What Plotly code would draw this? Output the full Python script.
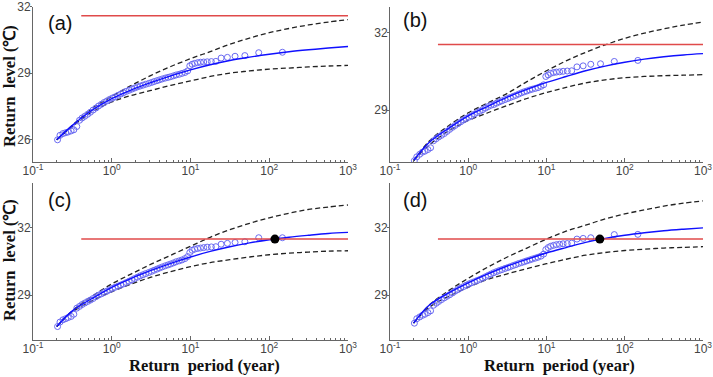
import plotly.graph_objects as go

# ---------------- data ----------------
panel_labels = ["(a)", "(b)", "(c)", "(d)"]

# empirical return periods (years) of the plotted observations
T_obs = [147, 73.5, 49, 36.8, 29.4, 24.5, 21, 18.4, 16.3, 14.7, 13.4, 12.3, 11.3, 10.5, 9.8,
         9.2, 8.5, 7.8, 7.2, 6.6, 6.1, 5.6, 5.2, 4.8, 4.4,
         4.05, 3.75, 3.45, 3.2, 2.95, 2.7, 2.5, 2.3, 2.12, 1.95,
         1.8, 1.66, 1.53, 1.41, 1.3, 1.2, 1.1, 1.02, 0.94, 0.87,
         0.8, 0.74, 0.68, 0.63, 0.58, 0.535, 0.495, 0.455, 0.42, 0.39,
         0.36, 0.33, 0.305, 0.28, 0.26, 0.24, 0.22, 0.205]

obs_a = [29.94, 29.92, 29.79, 29.76, 29.71, 29.68, 29.53, 29.52, 29.51, 29.50, 29.49, 29.47, 29.44, 29.40, 29.33,
         29.10, 29.03, 28.99, 28.95, 28.92, 28.88, 28.84, 28.81, 28.78, 28.74,
         28.70, 28.66, 28.62, 28.58, 28.54, 28.50, 28.46, 28.42, 28.38, 28.33,
         28.28, 28.23, 28.18, 28.12, 28.06, 28.00, 27.93, 27.88, 27.82, 27.75,
         27.68, 27.60, 27.52, 27.43, 27.34, 27.24, 27.15, 27.06, 26.98, 26.88,
         26.60, 26.45, 26.40, 26.35, 26.32, 26.28, 26.20, 26.00]
obs_b = [30.92, 30.88, 30.79, 30.77, 30.71, 30.67, 30.52, 30.51, 30.50, 30.48, 30.47, 30.45, 30.42, 30.36, 30.30,
         29.98, 29.92, 29.87, 29.84, 29.81, 29.78, 29.74, 29.71, 29.67, 29.62,
         29.57, 29.53, 29.49, 29.45, 29.41, 29.36, 29.32, 29.27, 29.22, 29.19,
         29.14, 29.08, 29.02, 28.96, 28.91, 28.85, 28.78, 28.73, 28.68, 28.62,
         28.55, 28.48, 28.41, 28.34, 28.26, 28.18, 28.10, 28.03, 27.97, 27.90,
         27.82, 27.55, 27.48, 27.42, 27.38, 27.30, 27.20, 27.05]
obs_c = [31.56, 31.56, 31.38, 31.35, 31.31, 31.27, 31.16, 31.15, 31.14, 31.12, 31.10, 31.08, 31.05, 31.00, 30.90,
         30.72, 30.63, 30.57, 30.53, 30.49, 30.44, 30.39, 30.35, 30.31, 30.26,
         30.21, 30.16, 30.11, 30.06, 30.01, 29.96, 29.91, 29.86, 29.80, 29.74,
         29.68, 29.62, 29.56, 29.50, 29.45, 29.40, 29.35, 29.30, 29.24, 29.18,
         29.12, 29.06, 29.00, 28.93, 28.85, 28.78, 28.72, 28.65, 28.58, 28.50,
         28.42, 28.15, 28.05, 28.00, 27.95, 27.90, 27.80, 27.60]
obs_d = [31.71, 31.70, 31.52, 31.56, 31.53, 31.50, 31.32, 31.30, 31.29, 31.27, 31.25, 31.22, 31.18, 31.12, 31.03,
         30.83, 30.74, 30.69, 30.65, 30.61, 30.57, 30.53, 30.49, 30.45, 30.41,
         30.36, 30.32, 30.27, 30.23, 30.19, 30.14, 30.10, 30.05, 30.00, 29.94,
         29.88, 29.82, 29.76, 29.70, 29.65, 29.60, 29.55, 29.50, 29.44, 29.38,
         29.32, 29.25, 29.18, 29.10, 29.02, 28.95, 28.88, 28.80, 28.72, 28.64,
         28.55, 28.30, 28.22, 28.15, 28.10, 28.03, 27.95, 27.75]

# return periods at which the fitted curve and its confidence bounds are read
T_fit = [0.2, 0.316, 0.562, 1, 1.78, 3.16, 5.62, 10, 17.8, 31.6, 56.2, 100, 178, 316, 562, 1000]

fit_a = [26.0, 26.65, 27.33, 27.85, 28.25, 28.58, 28.88, 29.15, 29.38, 29.57, 29.72, 29.85, 29.96, 30.05, 30.13, 30.2]
up_a = [26.0, 26.65, 27.4, 27.95, 28.45, 28.9, 29.3, 29.65, 29.97, 30.3, 30.58, 30.82, 31.01, 31.17, 31.3, 31.41]
lo_a = [26.0, 26.6, 27.25, 27.7, 28.0, 28.22, 28.45, 28.65, 28.85, 29.0, 29.1, 29.18, 29.23, 29.28, 29.32, 29.35]

fit_b = [27.05, 27.75, 28.3, 28.78, 29.15, 29.5, 29.8, 30.07, 30.3, 30.52, 30.7, 30.85, 30.97, 31.06, 31.13, 31.18]
up_b = [27.05, 27.8, 28.4, 28.9, 29.28, 29.65, 30.1, 30.52, 30.9, 31.23, 31.52, 31.77, 31.97, 32.14, 32.28, 32.4]
lo_b = [27.05, 27.65, 28.2, 28.6, 28.9, 29.18, 29.45, 29.68, 29.88, 30.05, 30.17, 30.25, 30.3, 30.33, 30.35, 30.37]

fit_c = [27.6, 28.3, 28.85, 29.35, 29.75, 30.1, 30.42, 30.7, 30.95, 31.16, 31.33, 31.47, 31.58, 31.67, 31.75, 31.8]
up_c = [27.6, 28.3, 28.95, 29.5, 29.95, 30.38, 30.78, 31.18, 31.58, 31.92, 32.2, 32.45, 32.65, 32.82, 32.93, 33.02]
lo_c = [27.6, 28.25, 28.75, 29.15, 29.5, 29.8, 30.05, 30.27, 30.45, 30.58, 30.7, 30.8, 30.87, 30.92, 30.96, 30.98]

fit_d = [27.75, 28.55, 29.1, 29.55, 29.95, 30.3, 30.6, 30.88, 31.12, 31.35, 31.53, 31.67, 31.78, 31.87, 31.94, 32.0]
up_d = [27.75, 28.55, 29.2, 29.75, 30.25, 30.7, 31.1, 31.5, 31.85, 32.12, 32.4, 32.62, 32.8, 32.97, 33.1, 33.2]
lo_d = [27.75, 28.45, 28.95, 29.35, 29.7, 29.95, 30.18, 30.4, 30.6, 30.78, 30.9, 30.99, 31.05, 31.1, 31.13, 31.16]

threshold = [31.58, 31.53, 31.5, 31.5]
threshold_T = [0.41, 1000]

# intersection markers (return period, level); None for panels without one
cross_T = [None, None, 118, 48]
cross_v = [None, None, 31.5, 31.5]

y_ranges = [[25, 32], [27, 33], [27, 34], [27, 34]]
y_ticks = [[26, 29, 32], [29, 32], [29, 32], [29, 32]]
x_tickvals = [0.1, 1, 10, 100, 1000]
x_ticktext = ["10<sup>-1</sup>", "10<sup>0</sup>", "10<sup>1</sup>", "10<sup>2</sup>", "10<sup>3</sup>"]
minor_vals = [m * d for d in [0.1, 1, 10, 100] for m in range(2, 10)]

y_title = "Return\u00a0 level (\u2103)"
x_title = "Return\u00a0 period (year)"

# ---------------- figure ----------------
W, H = 713, 377
xdom = [[33 / W, 348 / W], [390 / W, 703 / W], [33 / W, 348 / W], [390 / W, 703 / W]]
ydom_top = [1 - 162 / H, 1 - 6.5 / H]
ydom_bot = [1 - 340 / H, 1 - 183 / H]
ydom = [ydom_top, ydom_top, ydom_bot, ydom_bot]

obs = [obs_a, obs_b, obs_c, obs_d]
fits = [fit_a, fit_b, fit_c, fit_d]
ups = [up_a, up_b, up_c, up_d]
los = [lo_a, lo_b, lo_c, lo_d]

fig = go.Figure()
dash_style = dict(color="#222222", width=1.3, dash="5px,3px")
for i in range(4):
    xa = "x" if i == 0 else f"x{i+1}"
    ya = "y" if i == 0 else f"y{i+1}"
    fig.add_trace(go.Scatter(x=T_fit, y=ups[i], mode="lines", line=dash_style, line_shape="spline",
                             xaxis=xa, yaxis=ya, showlegend=False))
    fig.add_trace(go.Scatter(x=T_fit, y=los[i], mode="lines", line=dash_style, line_shape="spline",
                             xaxis=xa, yaxis=ya, showlegend=False))
    fig.add_trace(go.Scatter(x=T_obs, y=obs[i], mode="markers",
                             marker=dict(symbol="circle-open", size=6, color="#6a6af2", line=dict(width=1)),
                             xaxis=xa, yaxis=ya, showlegend=False))
    fig.add_trace(go.Scatter(x=T_fit, y=fits[i], mode="lines", line=dict(color="#1010ff", width=1.4),
                             line_shape="spline", xaxis=xa, yaxis=ya, showlegend=False))
    fig.add_trace(go.Scatter(x=threshold_T, y=[threshold[i], threshold[i]], mode="lines",
                             line=dict(color="#e04a4a", width=1.5), xaxis=xa, yaxis=ya, showlegend=False))
    if cross_T[i] is not None:
        fig.add_trace(go.Scatter(x=[cross_T[i]], y=[cross_v[i]], mode="markers",
                                 marker=dict(color="black", size=9), xaxis=xa, yaxis=ya, showlegend=False))

    xkey = "xaxis" if i == 0 else f"xaxis{i+1}"
    ykey = "yaxis" if i == 0 else f"yaxis{i+1}"
    fig.layout[xkey] = dict(
        type="log", range=[-1, 3], domain=xdom[i], anchor=ya,
        tickmode="array", tickvals=x_tickvals, ticktext=x_ticktext,
        ticks="inside", ticklen=4, tickwidth=1, tickcolor="#666",
        minor=dict(tickmode="array", tickvals=minor_vals, ticks="inside", ticklen=2, tickcolor="#666"),
        showline=True, linecolor="#666", linewidth=1, mirror=False,
        showgrid=False, zeroline=False, ticklabeloverflow="allow",
        ticklabelstandoff=-2,
        tickfont=dict(family="Liberation Sans, Arial", size=12, color="#444"),
        automargin=False,
    )
    fig.layout[ykey] = dict(
        range=y_ranges[i], domain=ydom[i], anchor=xa,
        tickmode="array", tickvals=y_ticks[i],
        ticks="outside", ticklen=2, tickwidth=1, tickcolor="#666",
        showline=True, linecolor="#666", linewidth=1, mirror=False,
        showgrid=False, zeroline=False, ticklabeloverflow="allow",
        ticklabelstandoff=-3,
        tickfont=dict(family="Liberation Sans, Arial", size=12, color="#444"),
        automargin=False,
    )

annotations = []
label_pos = [(59.5, 23), (414.5, 20), (59.5, 200), (414.5, 200)]
for i, (px, py) in enumerate(label_pos):
    annotations.append(dict(text=panel_labels[i], x=px / W, y=1 - py / H, xref="paper", yref="paper",
                            showarrow=False, xanchor="center", yanchor="middle",
                            font=dict(family="Liberation Sans, Arial", size=20, color="#111")))
for py in [86, 260]:
    annotations.append(dict(text="<b>" + y_title + "</b>", x=9 / W, y=1 - py / H, xref="paper", yref="paper",
                            showarrow=False, textangle=-90, xanchor="center", yanchor="middle",
                            font=dict(family="Liberation Serif, Times New Roman", size=16.5, color="#111")))
for px in [204, 559]:
    annotations.append(dict(text="<b>" + x_title + "</b>", x=px / W, y=1 - 365 / H, xref="paper", yref="paper",
                            showarrow=False, xanchor="center", yanchor="middle",
                            font=dict(family="Liberation Serif, Times New Roman", size=16.5, color="#111")))

fig.update_layout(
    width=W, height=H, margin=dict(l=0, r=0, t=0, b=0),
    paper_bgcolor="white", plot_bgcolor="white",
    annotations=annotations, showlegend=False,
)

fig.write_html("out.html", config={"displayModeBar": False},
               post_script="document.body.style.margin='0';document.body.style.overflow='hidden';")
